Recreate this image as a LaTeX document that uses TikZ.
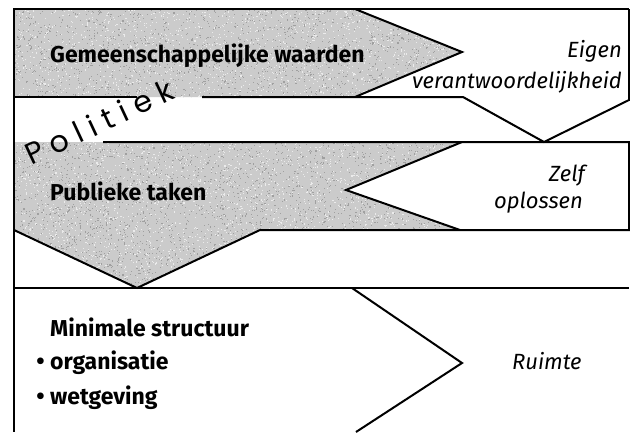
\documentclass[tikz,border=0pt]{standalone}
\usepackage{fontspec}
\setmainfont{Fira Sans}
\newfontfamily\polfont[LetterSpace=27]{Poppins}
\definecolor{gfill}{RGB}{203,203,203}
\definecolor{gdark}{RGB}{160,160,160}
\definecolor{glight}{RGB}{235,235,235}
\begin{document}
\begin{tikzpicture}[x=1pt,y=-1pt,
  ln/.style={draw=black, line width=2pt, line join=miter},
  boldtxt/.style={font=\fontsize{23}{23}\selectfont\bfseries, anchor=base west, inner sep=0pt},
  itxt/.style={font=\fontsize{22}{22}\selectfont\itshape, anchor=base east, inner sep=0pt},
  bul/.style={font=\fontsize{24}{24}\selectfont\bfseries, anchor=base east, inner sep=0pt}]
\useasboundingbox (0,0) rectangle (630,432);
% key points
\coordinate (TL) at (14,9);
\coordinate (TR) at (629,9);
\coordinate (A1) at (355,9);
\coordinate (A1t) at (462,52);
\coordinate (A1b) at (355,97);
\coordinate (R1L) at (14,97);
\coordinate (V1a) at (463,97);
\coordinate (V1t) at (544,142);
\coordinate (V1b) at (629,100);
\coordinate (R2L) at (14,142);
\coordinate (R2R) at (629,142);
\coordinate (N2a) at (462,142);
\coordinate (N2t) at (346,190);
\coordinate (N2b) at (460,230);
\coordinate (B2R) at (629,230);
\coordinate (D2a) at (260,230);
\coordinate (D2t) at (137,288);
\coordinate (D2b) at (14,230);
\coordinate (R3L) at (14,288);
\coordinate (R3R) at (629,288);
\coordinate (N3a) at (352,288);
\coordinate (N3t) at (462,363);
\coordinate (N3b) at (356,432);
\coordinate (BL) at (14,432);
% grey areas with a speckled texture
\fill[gfill] (TL) -- (A1) -- (A1t) -- (A1b) -- (R1L) -- cycle;
\fill[gfill] (R2L) -- (N2a) -- (N2t) -- (N2b) -- (D2a) -- (D2t) -- (D2b) -- cycle;
\pgfmathsetseed{4242}
\begin{scope}
  \clip (TL) -- (A1) -- (A1t) -- (A1b) -- (R1L) -- cycle
        (R2L) -- (N2a) -- (N2t) -- (N2b) -- (D2a) -- (D2t) -- (D2b) -- cycle;
  \foreach \i in {1,...,5000} {
    \fill[gdark] ({14+rnd*450},{9+rnd*280}) rectangle +(1.1,1.1);
    \fill[glight] ({14+rnd*450},{9+rnd*280}) rectangle +(1.1,1.1);
  }
\end{scope}
% lines
\draw[ln] (TR) -- (TL) -- (BL);
\draw[ln] (A1) -- (A1t) -- (A1b);
\draw[ln] (R1L) -- (137,97);
\draw[ln] (202,97) -- (V1a) -- (V1t) -- (V1b) -- (TR);
\draw[ln] (103,142) -- (R2R) -- (B2R) -- (D2a) -- (D2t) -- (D2b);
\draw[ln] (N2a) -- (N2t) -- (N2b);
\draw[ln] (R3L) -- (R3R);
\draw[ln] (N3a) -- (N3t) -- (N3b);
% texts
\node[boldtxt] (gw) at (50,62) {Gemeenschappelijke waarden};
\node[itxt] (eig) at (622,57) {Eigen};
\node[itxt] (ver) at (622,88) {verantwoordelijkheid};
\node[boldtxt] (pt) at (50,200) {Publieke taken};
\node[itxt] (zelf) at (585,181) {Zelf};
\node[itxt] (opl) at (583,208) {oplossen};
\node[boldtxt] (ms) at (50,336) {Minimale structuur};
\node[bul] (b1) at (45,369) {•};
\node[boldtxt] (org) at (50,369) {organisatie};
\node[bul] (b2) at (45,404) {•};
\node[boldtxt] (wet) at (50,404) {wetgeving};
\node[itxt, anchor=base west] (ru) at (512,369) {Ruimte};
\node[rotate=25, anchor=base west, inner sep=0pt, font=\polfont\fontsize{30}{30}\selectfont] (pol) at (31,166) {Politiek};
\end{tikzpicture}
\end{document}
